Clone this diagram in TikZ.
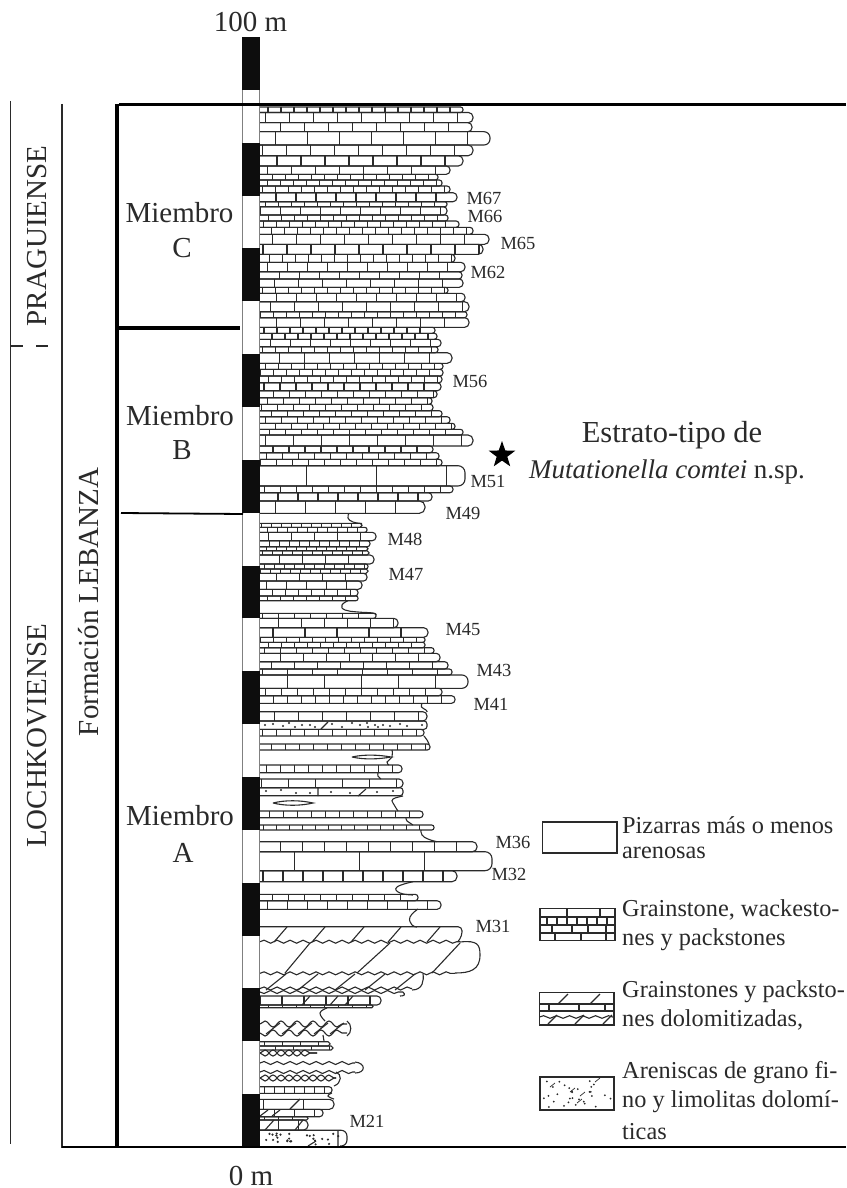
\documentclass[tikz,border=0pt]{standalone}
\usepackage{fontspec}
\setmainfont{Liberation Serif}
\usetikzlibrary{decorations.pathmorphing,shapes.geometric}
\definecolor{ink}{HTML}{2A2A2A}
\tikzset{
 bl/.style={draw=ink,line width=1.1pt},
 wv/.style={bl,decorate,decoration={snake,amplitude=1.5pt,segment length=13pt}},
 wvb/.style={bl,decorate,decoration={snake,amplitude=-1.5pt,segment length=13pt}},
 wvc/.style={bl,decorate,decoration={snake,amplitude=3pt,segment length=16pt}},
 wvd/.style={bl,decorate,decoration={snake,amplitude=-3pt,segment length=16pt}},
 shale/.style={bl,smooth,tension=0.8},
 heavy/.style={draw=black,line width=#1},
 big/.style={font=\fontsize{29}{30}\selectfont,inner sep=0pt,text=ink},
 bedlabel/.style={font=\fontsize{19}{20}\selectfont,inner sep=0pt,text=ink},
 leg/.style={font=\fontsize{24.3}{28.7}\selectfont,inner sep=0pt,anchor=west,text=ink},
 legbox/.style={draw=ink,line width=1.7pt},
 dot/.style={fill=ink},
}
\newcommand{\beds}[1]{%
 \foreach \ta/\tb/\tr/\tw [count=\n] in {#1}{%
  \pgfmathsetmacro{\rr}{min(7,(\tb-\ta)*0.45)}
  \draw[bl,rounded corners=\rr pt] (260,\ta) -- (\tr,\ta) -- (\tr,\tb) -- (260,\tb);
  \pgfmathsetmacro{\xa}{260+\tw*mod(\n*0.618,1)}
  \pgfmathsetmacro{\xb}{\xa+\tw}
  \pgfmathsetmacro{\xc}{\tr-3}
  \foreach \xx in {\xa,\xb,...,\xc} \draw[bl] (\xx,\ta) -- (\xx,\tb);
 }}
\begin{document}
\begin{tikzpicture}[x=1pt,y=-1pt]
\useasboundingbox (0,0) rectangle (846,1188);
\fill[white] (0,0) rectangle (846,1188);
% beds
\beds{107/112.5/463/13,112.5/122.7/473/24,122.7/131.7/472/24,131.7/145/490/32,145/155.7/473/24,155.7/166/463/24,166/174.3/450/24,
174.3/180/438/13,180/186/442/13,186/192.7/450/13,192.7/201.7/457/20,201.7/206.7/447/13,206.7/215/447/20,215/221/448/13,221/227.3/459/13,227.3/234.3/473/13,234.3/244.3/489/24,244.3/254.3/483/24,254.3/262.3/455/13,262.3/271.7/465/20,271.7/279/462/20,279/287.3/463/24,287.3/293.3/448/13,293.3/301.7/465/20,301.7/311.7/469/24,311.7/317.7/467/13,317.7/327.3/469/24,327.3/333.3/435/13,333.3/339.3/437/13,339.3/346.7/441/20,346.7/352.7/438/13,352.7/363.3/452/25,363.3/369.3/443/13,369.3/376/443/13,376/382.7/442/13,
382.7/390.7/441/16,390.7/397.7/437/16,397.7/404.3/432/16,404.3/410.7/433/16,410.7/416.7/442/16,416.7/423.3/450/16,423.3/429.3/455/16,429.3/435/463/16,435/446/473/28,446/452.7/433/16,452.7/459.3/439/16,459.3/465.7/442/16,465.7/486/465/70,486/492.7/453/16,492.7/501/432/20,501/513.3/425/30,
523.3/527.3/362/10,527.3/532.3/367/10,532.3/540.7/376/23,540.7/546.7/370/10,546.7/550.7/368/10,550.7/555/369/10,555/564/374/23,564/569/368/10,569/573.3/368/10,573.3/581/367/23,581/589.3/362/20,589.3/596/358/13,596/600.7/358/13,
613.3/618.3/376/16,618.3/627.7/398/23,627.7/637.3/428/32,637.3/642.3/425/13,642.3/647.7/425/13,647.7/653.3/434/16,653.3/661.7/440/23,661.7/669/448/23,669/675/452/25,675/688.3/468/37,688.3/695.7/442/16,695.7/703.3/455/14,
711.7/721/427/24,729.3/736/424/14,744/750/430/14,765/772.7/402/14,779/787.7/403/27,811/817.7/423/14,825/830/434/13,
841.7/851.7/477/22,851.7/870.7/492/65,870.7/881.7/457/20,894.3/900.7/418/16,900.7/909.3/441/20,
996/1005/381/22,1005/1007.7/373/14,1041.7/1046/330/18,1046/1050/333/18,1086.7/1093.3/332/10,1099.3/1109.3/334/40,1109.3/1116.7/323/20,1116.7/1120/308/14,1120/1130/308/20}
% shale margins
\draw[shale] plot coordinates {(349,513.5)(348,518)(353,522)(362,523.5)};
\draw[shale] plot coordinates {(348,600.7)(342,605)(345,610)(358,612)(373,613)(376,615)};
\draw[shale] plot coordinates {(422,703.5)(421.5,707)(426,710)(427,712)};
\draw[shale] plot coordinates {(424,736)(427,740)(429,744)};
\draw[shale] plot coordinates {(392,750)(392,757)(387,762)(389,765)};
\draw[shale] plot coordinates {(378,773)(378,776)(381,779)};
\draw[shale] plot coordinates {(403,796)(393,799)(393,803)(396,808)(398,811)};
\draw[shale] plot coordinates {(406,818)(407,821)(410,823)(413,825)};
\draw[shale] plot coordinates {(421,830)(422,835)(428,839)(437,841.7)};
\draw[shale] plot coordinates {(413,881.7)(397,887)(400,893)(413,895)};
\draw[shale] plot coordinates {(418,909)(410,917)(412,925)(417,927)};
\draw[shale] plot coordinates {(327,1008)(320,1013)(325,1021)};
\draw[shale] plot coordinates {(323,1035)(324,1041)};
\draw[shale] plot coordinates {(332,1093)(328,1096)(334,1099)};
% lenses
\draw[bl] (352,757) .. controls (365,754) and (380,755) .. (391,757) .. controls (380,759) and (365,760) .. (352,757);
\draw[bl] (273,803) .. controls (285,800) and (300,800) .. (313,803) .. controls (300,806) and (285,806) .. (273,803);
% sandy beds
\draw[bl,rounded corners=3pt] (260,721) -- (427,721) -- (427,729.3) -- (260,729.3);
\foreach \xx/\yy in {265/725,273/724,283/726,289/723,295/727,302/725,310/725,315/727,332/724,342/727,352/723,360/725,367/723,368/727,375/725,378/727,383/725,390/726,400/724,407/726,422/725}
 \fill[dot] (\xx,\yy) circle (1.2pt);
\draw[bl] (321,729) -- (328,722);
\draw[bl,rounded corners=3pt] (260,787.7) -- (403,787.7) -- (403,795.7) -- (260,795.7);
\foreach \xx/\yy in {266/791,281/790,296/793,310/793,331/792,350/793,377/792,393/791}
 \fill[dot] (\xx,\yy) circle (1.2pt);
\draw[bl] (318,788) -- (318,796) (358,796) -- (366,789);
% dolomites
\draw[bl,rounded corners=4pt] (260,926.7) -- (462,926.7) -- (462,936) -- (458,941.5);
\draw[wv] (260,941.7) -- (460,941.7);
\foreach \xx in {274,312,351,388,427} \draw[bl] (\xx,942) -- (\xx+13,927);
\draw[bl] (460,942) .. controls (478,940) and (480,945) .. (480,955) .. controls (480,970) and (470,973) .. (455,973);
\draw[wv] (260,973.3) -- (455,973.3);
\foreach \xa/\xb in {285/310,357/390,432/460} \draw[bl] (\xa,973) -- (\xb,943);
\draw[bl] (423,974) .. controls (424,980) and (423,990) .. (412,990);
\foreach \xx in {266,298,335,365,395} \draw[bl] (\xx,990) -- (\xx+20,974);
\draw[wv] (260,988.5) -- (412,988.5);
\draw[wvb] (260,992) -- (403,992);
\draw[bl] (403,992) .. controls (406,995) and (404,996) .. (400,996);
\foreach \xx in {302,330,345} \draw[bl] (\xx,1005) -- (\xx+8,996);
\draw[wvc] (260,1024) -- (347,1024);
\draw[wvd] (260,1033) -- (347,1033);
\draw[bl] (347,1021) .. controls (352,1024) and (352,1033) .. (347,1036);
\foreach \xx in {266,282,298,314,330} \draw[bl] (\xx,1034) -- (\xx+14,1023);
\draw[wvc] (260,1053) -- (317,1053);
\draw[wvd] (260,1053) -- (317,1053);
\draw[wv] (260,1063) -- (355,1063);
\draw[wv] (260,1072) -- (355,1072);
\draw[bl] (355,1062) .. controls (366,1063) and (366,1073) .. (355,1073);
\draw[wvc] (260,1078) -- (336,1078);
\draw[wvd] (260,1078) -- (336,1078);
\draw[bl] (336,1072) .. controls (342,1074) and (342,1083) .. (334,1086);
\draw[bl] (300,1099) -- (290,1109) (260,1116) -- (268,1110) (272,1116) -- (280,1110);
\draw[bl] (265,1130) -- (274,1120) (295,1130) -- (303,1120);
% sandstone base
\draw[bl,rounded corners=6pt] (260,1130.2) -- (347,1130.2) -- (347,1146) -- (340,1146);
\pgfmathsetseed{11}
\foreach \i in {1,...,26}{
 \pgfmathsetmacro{\dx}{263+rnd*80}\pgfmathsetmacro{\dy}{1133+rnd*12}
 \fill[dot] (\dx,\dy) circle (1.2pt);}
\draw[bl] (338,1131) -- (338,1146) (308,1146) -- (316,1141);
% column
\fill[white] (242,37) rectangle (260,1147);
\draw[draw=gray,line width=1pt] (242.5,37) -- (242.5,1147) (259.8,37) -- (259.8,1147);
\foreach \i in {0,2,...,20}
 \fill[black!95] (242,37+\i*52.86) rectangle (260.3,37+\i*52.86+52.86);
% frame
\draw[heavy=1.5pt,draw=ink] (10.5,101) -- (10.5,1144);
\draw[heavy=1.5pt,draw=ink] (10.5,346) -- (23,346) (36,346) -- (48,346);
\draw[heavy=1.8pt,draw=ink] (62,104) -- (62,1147.5);
\draw[heavy=2pt] (62,1147) -- (846,1147);
\draw[heavy=4.2pt] (117,104) -- (117,1147);
\draw[heavy=3.8pt] (119,104.5) -- (846,104.5);
\draw[heavy=3.5pt] (117,328) -- (240,328);
\draw[heavy=1.8pt] (121,513) -- (243,514);
% texts
\node[big] (top) at (250.5,22) {100 m};
\node[big] (bottom) at (251,1176) {0 m};
\node[big,rotate=90] (prag) at (37,236) {PRAGUIENSE};
\node[big,rotate=90] (loch) at (37,736) {LOCHKOVIENSE};
\node[big,rotate=90] (form) at (89,602) {Formación LEBANZA};
\node[big] (mc1) at (179.5,213) {Miembro}; \node[big] (mc2) at (182,248) {C};
\node[big] (mb1) at (180,416) {Miembro}; \node[big] (mb2) at (182,450) {B};
\node[big] (ma1) at (180,816) {Miembro}; \node[big] (ma2) at (183,853) {A};
\node[big,font=\fontsize{30.5}{31}\selectfont] (est1) at (672,435) {Estrato-tipo de};
\node[big,font=\fontsize{27}{30}\selectfont] (est2) at (667,472) {\textit{Mutationella comtei} n.sp.};
\node[star,star points=5,star point ratio=2.5,fill=black,inner sep=0pt,minimum size=28pt] (star) at (502,455) {};
\foreach \nm/\lx/\ly/\tx in {a/484/198/M67,b/485/216/M66,c/518/243/M65,d/488/272/M62,e/470/381/M56,f/488/481/M51,g/463/513/M49,h/405/539/M48,i/406/574/M47,j/463/629/M45,k/494/670/M43,l/491/704/M41,m/513/842/M36,n/509/874/M32,o/493/926/M31,p/367/1121/M21}
 \node[bedlabel,font=\fontsize{18.5}{19}\selectfont] (lab\nm) at (\lx,\ly) {\tx};
% legend
\draw[legbox] (542.5,822) rectangle (617,853);
\draw[legbox] (540,908.5) rectangle (615,940.5);
\draw[bl] (540,917) -- (615,917) (540,925) -- (615,925) (540,933) -- (615,933);
\foreach \xx in {567,600} \draw[bl] (\xx,908.5) -- (\xx,917);
\foreach \xx in {547,557,567,577,587,597,607} \draw[bl] (\xx,917) -- (\xx,925);
\foreach \xx in {552,572,588,606} \draw[bl] (\xx,925) -- (\xx,933);
\foreach \xx in {555,581,606} \draw[bl] (\xx,933) -- (\xx,940.5);
\draw[legbox] (539.5,992.5) rectangle (614,1025);
\draw[bl] (539.5,1004) -- (614,1004) (539.5,1011) -- (614,1011);
\foreach \xx in {549,579,605} \draw[bl] (\xx,1004) -- (\xx,1011);
\foreach \xx in {558,590} \draw[bl] (\xx,1004) -- (\xx+10,994);
\draw[bl,decorate,decoration={snake,amplitude=1.3pt,segment length=13pt}] (539.5,1017) -- (614,1017);
\foreach \xx in {548,575,603} \draw[bl] (\xx,1024) -- (\xx+9,1015);
\draw[legbox] (540,1077) rectangle (614,1110);
\pgfmathsetseed{5}
\foreach \i in {1,...,30}{
 \pgfmathsetmacro{\dx}{543+rnd*68}\pgfmathsetmacro{\dy}{1080+rnd*27}
 \fill[dot] (\dx,\dy) circle (1pt);}
\foreach \xx/\yy in {570/1092,580/1096,550/1087,595/1082,577/1103}
 \draw[bl,line width=.7pt] (\xx,\yy) -- (\xx+5,\yy-4);
\node[leg] (l1) at (622,825) {Pizarras más o menos};
\node[leg] (l2) at (622,853) {arenosas};
\node[leg] (l3) at (622,910) {Grainstone, wackesto-};
\node[leg] (l4) at (622,940) {nes y packstones};
\node[leg] (l5) at (622,992) {Grainstones y packsto-};
\node[leg] (l6) at (622,1020) {nes dolomitizadas,};
\node[leg] (l7) at (622,1073) {Areniscas de grano fi-};
\node[leg] (l8) at (622,1102) {no y limolitas dolomí-};
\node[leg] (l9) at (622,1132) {ticas};
\end{tikzpicture}
\end{document}
